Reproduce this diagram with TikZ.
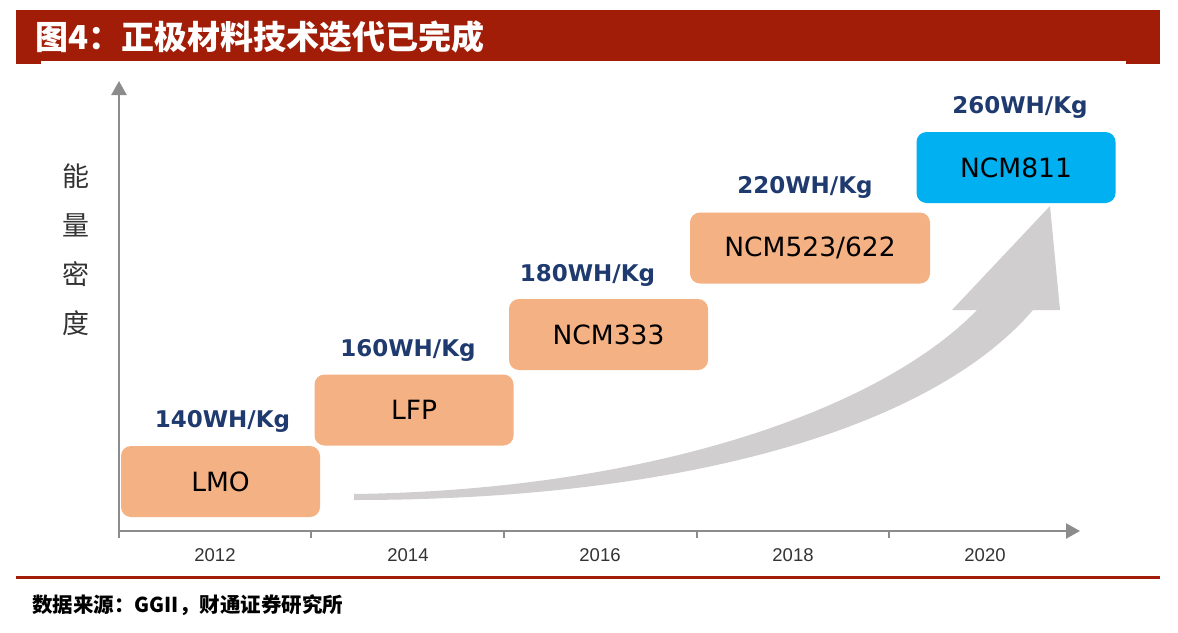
\documentclass[tikz,border=0pt]{standalone}
\usepackage{fontspec}
\setmainfont{DejaVu Sans}
\newfontfamily\cjk{Noto Sans CJK SC}
\newfontfamily\lsans{Liberation Sans}
\usetikzlibrary{arrows.meta,positioning}
\definecolor{cfTitle}{HTML}{A21D08}
\definecolor{cfOrange}{HTML}{F4B183}
\definecolor{cfBlue}{HTML}{00B0F0}
\definecolor{cfNavy}{HTML}{1F3A6E}
\definecolor{cfAxis}{HTML}{8C8C8C}
\definecolor{cfArrow}{HTML}{D0CECE}
\definecolor{cfText}{HTML}{333333}
\tikzset{
  matbox/.style={
    fill=cfOrange, rounded corners=10pt, minimum width=199pt, minimum height=71pt,
    inner sep=0pt, font=\fontsize{26.5}{30}\selectfont
  },
  newbox/.style={matbox, fill=cfBlue},
  whtag/.style={font=\bfseries\fontsize{23}{26}\selectfont, text=cfNavy, inner sep=0pt},
  yrtag/.style={font=\lsans\fontsize{18.5}{20}\selectfont, text=cfText, inner sep=0pt},
  axisline/.style={draw=cfAxis, line width=2.5pt, -{Triangle[length=14pt, width=15pt]}},
  tickline/.style={draw=cfAxis, line width=2pt},
  swoosh/.style={fill=cfArrow}
}
\begin{document}
\begin{tikzpicture}[x=1pt, y=-1pt]
  \useasboundingbox (0,0) rectangle (1178,632);
  % header and footer
  \fill[cfTitle] (16,10) rectangle (1160,64);
  \fill[white] (41,61) rectangle (1126,64);
  \node[anchor=west, text=white, inner sep=0pt, font=\cjk\bfseries\fontsize{33}{36}\selectfont] (title) at (35,37) {图4：正极材料技术迭代已完成};
  \fill[cfTitle] (16,575.5) rectangle (1160,578.5);
  \node[anchor=west, inner sep=0pt, font=\cjk\bfseries\fontsize{20.5}{24}\selectfont] (src) at (32,605) {数据来源：GGII，财通证券研究所};
  % axes
  \coordinate (ybot) at (119,538);
  \coordinate (ytop) at (119,81);
  \coordinate (xorg) at (119,531);
  \coordinate (xend) at (1080,531);
  \draw[axisline] (ybot) -- (ytop);
  \draw[axisline] (xorg) -- (xend);
  \draw[tickline] (311,531) -- (311,538);
  \draw[tickline] (504,531) -- (504,538);
  \draw[tickline] (697,531) -- (697,538);
  \draw[tickline] (889,531) -- (889,538);
  \node[text=black!80, align=center, inner sep=0pt, font=\cjk\fontsize{27}{49}\selectfont] (ylab) at (75.5,250) {能\\量\\密\\度};
  \node[yrtag] (y12) at (215,555) {2012};
  \node[yrtag] (y14) at (408,555) {2014};
  \node[yrtag] (y16) at (600,555) {2016};
  \node[yrtag] (y18) at (793,555) {2018};
  \node[yrtag] (y20) at (985,555) {2020};
  % growth arrow
  \fill[swoosh] (354,494) .. controls (650,490) and (880,410) .. (977,310)
    -- (952,310) -- (1050,206) -- (1060,310) -- (1033,310)
    .. controls (930,430) and (680,500) .. (354,500) -- cycle;
  % materials
  \node[matbox] (lmo) at (220.5,481.5) {LMO};
  \node[matbox] (lfp) at (414,410) {LFP};
  \node[matbox] (ncm333) at (608.5,334.5) {NCM333};
  \node[matbox, minimum width=240pt] (ncm523) at (810,248) {NCM523/622};
  \node[newbox] (ncm811) at (1016,167.5) {NCM811};
  \node[whtag, above=13pt of lmo, xshift=2pt] (e140) {140WH/Kg};
  \node[whtag, above=13pt of lfp, xshift=-6pt] (e160) {160WH/Kg};
  \node[whtag, above=12pt of ncm333, xshift=-21pt] (e180) {180WH/Kg};
  \node[whtag, above=14pt of ncm523, xshift=-5pt] (e220) {220WH/Kg};
  \node[whtag, above=13pt of ncm811, xshift=4pt] (e260) {260WH/Kg};
\end{tikzpicture}
\end{document}
